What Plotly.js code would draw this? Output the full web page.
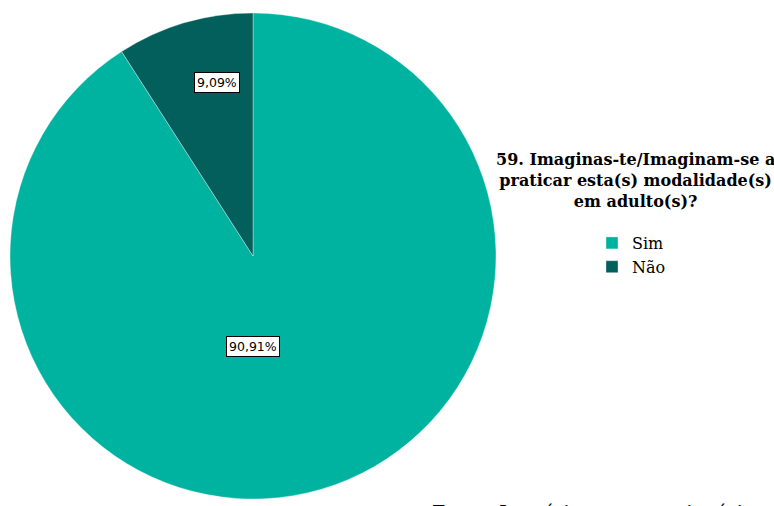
<!DOCTYPE html>
<html>
<head>
<meta charset="utf-8">
<script src="https://cdn.plot.ly/plotly-3.0.1.min.js"></script>
<style>
html,body{margin:0;padding:0;background:#fff;overflow:hidden;}
#chart{width:774px;height:506px;}
</style>
</head>
<body>
<div id="chart"></div>
<script>
const categories = ["Sim", "Não"];
const values = [90.91, 9.09];
const valueLabels = ["90,91%", "9,09%"];
const colors = ["#00B3A0", "#035F5B"];
const legendTitle = "59. Imaginas-te/Imaginam-se a<br>praticar esta(s) modalidade(s)<br>em adulto(s)?";
const sourceNote = "Fonte: Inquérito por questionário";

const W = 774, H = 506;
const px = x => x / W;
const py = y => 1 - y / H;
const serif = "'DejaVu Serif', 'Liberation Serif', serif";

const trace = {
  type: "pie",
  labels: categories,
  values: values,
  sort: false,
  direction: "clockwise",
  rotation: 0,
  textinfo: "none",
  hoverinfo: "label+percent",
  marker: {colors: colors, line: {color: "rgba(255,255,255,0.35)", width: 1}},
  domain: {x: [px(10), px(496)], y: [py(500), py(12)]}
};

const labelFont = {family: "DejaVu Sans", size: 12.5, color: "#000"};
const labelPos = [[253, 346], [217, 83]];
const annotations = valueLabels.map((t, i) => ({
  text: t, xref: "paper", yref: "paper",
  x: px(labelPos[i][0]), y: py(labelPos[i][1]),
  xanchor: "center", yanchor: "middle", showarrow: false,
  bgcolor: "#ffffff", bordercolor: "#000000", borderwidth: 1, borderpad: 2,
  font: labelFont
}));
annotations.push({
  text: "<b>" + legendTitle + "</b>", xref: "paper", yref: "paper",
  x: px(635), y: py(148), xanchor: "center", yanchor: "top",
  showarrow: false, align: "center",
  font: {family: serif, size: 16, color: "#000"}
});
annotations.push({
  text: sourceNote, xref: "paper", yref: "paper",
  x: px(430), y: py(499), xanchor: "left", yanchor: "top",
  showarrow: false,
  font: {family: serif, size: 19, color: "#000"}
});

const layout = {
  width: W, height: H,
  margin: {l: 0, r: 0, t: 0, b: 0},
  paper_bgcolor: "#fff",
  showlegend: true,
  legend: {
    x: px(592), y: py(226), xanchor: "left", yanchor: "top",
    font: {family: serif, size: 16, color: "#000"},
    itemwidth: 30, tracegroupgap: 0, bgcolor: "rgba(0,0,0,0)"
  },
  annotations: annotations
};

Plotly.newPlot("chart", [trace], layout, {displayModeBar: false, staticPlot: true});
</script>
</body>
</html>
